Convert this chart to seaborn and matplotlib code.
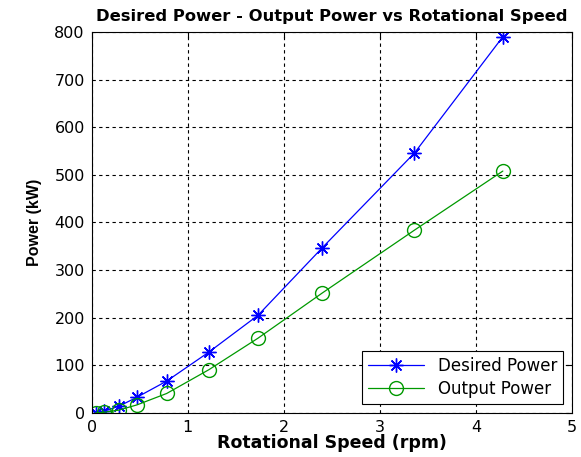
import matplotlib
matplotlib.use("Agg")
import matplotlib.pyplot as plt
import seaborn as sns
import pandas as pd

# Rotational speed (rpm) and the two power curves (kW)
speed = [0.04, 0.13, 0.28, 0.47, 0.78, 1.22, 1.73, 2.40, 3.36, 4.28]
desired_power = [1, 4, 14, 33, 67, 128, 205, 347, 546, 790]
output_power = [0.3, 1.5, 6, 17, 41, 91, 157, 252, 384, 508]

x_ticks = [0, 1, 2, 3, 4, 5]
y_ticks = [0, 100, 200, 300, 400, 500, 600, 700, 800]

df = pd.DataFrame({"speed": speed, "desired": desired_power, "output": output_power})

sns.set_style("white")
plt.rcParams["font.family"] = ["DejaVu Sans"]
plt.rcParams["text.color"] = "black"
plt.rcParams["axes.labelcolor"] = "black"

fig = plt.figure(figsize=(5.81, 4.57), dpi=100)
ax = fig.add_axes([0.158, 0.0963, 0.8265, 0.8337])

sns.lineplot(data=df, x="speed", y="desired", ax=ax, color="#0000ff",
             marker=(8, 2, 0), markersize=10, markeredgewidth=1.0,
             markeredgecolor="#0000ff", linewidth=0.9, label="Desired Power")
sns.lineplot(data=df, x="speed", y="output", ax=ax, color="#009900",
             marker="o", markersize=10, markerfacecolor="none",
             markeredgecolor="#009900", markeredgewidth=1.0,
             linewidth=0.9, label="Output Power")

ax.set_xlim(0, 5)
ax.set_ylim(0, 800)
ax.set_xticks(x_ticks)
ax.set_yticks(y_ticks)
ax.tick_params(direction="in", top=True, right=True, length=4, width=0.8,
               labelsize=11.5, colors="black", pad=5)
ax.grid(True, color="black", linestyle=(0, (3, 3)), linewidth=0.8)
for s in ax.spines.values():
    s.set_color("black")
    s.set_linewidth(0.8)

ax.set_title("Desired Power - Output Power vs Rotational Speed",
             fontsize=11.8, fontweight="bold", pad=8, color="black")
ax.set_xlabel("Rotational Speed (rpm)", fontsize=12.5, fontweight="bold", labelpad=-1)
ax.set_ylabel("Power (kW)", fontsize=11.5, fontweight="bold", labelpad=9,
              family=["Liberation Sans", "DejaVu Sans"])

leg = ax.legend(loc="lower right", fontsize=12, frameon=True, fancybox=False,
                edgecolor="black", framealpha=1, borderaxespad=0.55,
                handlelength=3.4, borderpad=0.35, labelspacing=0.3)
leg.get_frame().set_linewidth(0.8)

fig.savefig("out.png", dpi=100)
